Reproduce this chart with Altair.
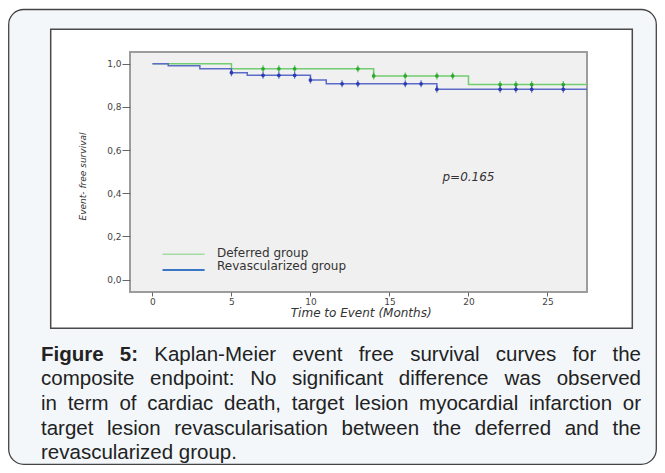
import altair as alt
import pandas as pd

# ---------------- data ----------------
groups = ["Deferred group", "Revascularized group"]
deferred_time = [0, 5, 14, 20]
deferred_surv = [1.0, 0.976, 0.943, 0.903]
revasc_time = [0, 1, 3, 5, 6, 10, 11, 18]
revasc_surv = [1.0, 0.990, 0.977, 0.958, 0.946, 0.924, 0.907, 0.881]
deferred_censor = [7, 8, 9, 13, 14, 16, 18, 19, 22, 23, 24, 26]
revasc_censor = [5, 7, 8, 9, 10, 12, 13, 16, 17, 18, 22, 23, 24, 26]
follow_up_end = 27.5
x_ticks = [0, 5, 10, 15, 20, 25]
y_ticks = [0.0, 0.2, 0.4, 0.6, 0.8, 1.0]
p_label = "p=0.165"
p_pos = [20.0, 0.475]
x_title = "Time to Event (Months)"
y_title = "Event- free survival"
caption_bold = "Figure 5:"
caption_lines = [
    "Kaplan-Meier event free survival curves for the",
    "composite endpoint: No significant difference was observed",
    "in term of cardiac death, target lesion myocardial infarction or",
    "target lesion revascularisation between the deferred and the",
    "revascularized group.",
]

# ---------------- layout constants ----------------
W, H = 457, 240
XMIN, XMAX = -1.42, 27.5
YMIN, YMAX = -0.057, 1.054
GREEN, BLUE = "#72cc72", "#5b6cc8"
GREEN_D, BLUE_D = "#2ea82e", "#2a3cb0"
LEG_GREEN, LEG_BLUE = "#a4dca4", "#3a76c6"
CHART_FONT = "DejaVu Sans"


def px_to_x(px):
    return XMIN + px / W * (XMAX - XMIN)


def py_to_y(py):
    return YMAX - py / H * (YMAX - YMIN)


def surv_at(times, survs, t):
    s = survs[0]
    for ti, si in zip(times, survs):
        if ti <= t:
            s = si
    return s


# step curves
rows = []
for g, ts, ss in [(groups[0], deferred_time, deferred_surv), (groups[1], revasc_time, revasc_surv)]:
    for t, s in zip(ts, ss):
        rows.append({"t": t, "s": s, "group": g})
    rows.append({"t": follow_up_end, "s": ss[-1], "group": g})
curves = pd.DataFrame(rows)

cens_def = pd.DataFrame({"t": deferred_censor,
                         "s": [surv_at(deferred_time, deferred_surv, t) for t in deferred_censor]})
cens_rev = pd.DataFrame({"t": revasc_censor,
                         "s": [surv_at(revasc_time, revasc_surv, t) for t in revasc_censor]})

# legend placement (inside the plot, lower left)
legend_df = pd.DataFrame({
    "group": groups,
    "x1": [px_to_x(32.5)] * 2,
    "x2": [px_to_x(74.6)] * 2,
    "xt": [px_to_x(87)] * 2,
    "yl": [py_to_y(202.3), py_to_y(218.0)],
    "yt": [py_to_y(200.5), py_to_y(214.0)],
})

# ---------------- caption word layout (justified) ----------------
REG = {' ': 278, ',': 278, '-': 333, '.': 278, ':': 278,
       'A': 667, 'B': 667, 'C': 722, 'D': 722, 'E': 667, 'F': 611, 'G': 778, 'H': 722, 'I': 278,
       'J': 500, 'K': 667, 'L': 556, 'M': 833, 'N': 722, 'O': 778, 'P': 667, 'Q': 778, 'R': 722,
       'S': 667, 'T': 611, 'U': 722, 'V': 667, 'W': 944, 'X': 667, 'Y': 667, 'Z': 611,
       'a': 556, 'b': 556, 'c': 500, 'd': 556, 'e': 556, 'f': 278, 'g': 556, 'h': 556, 'i': 222,
       'j': 222, 'k': 500, 'l': 222, 'm': 833, 'n': 556, 'o': 556, 'p': 556, 'q': 556, 'r': 333,
       's': 500, 't': 278, 'u': 556, 'v': 500, 'w': 722, 'x': 500, 'y': 500, 'z': 500}
BOLD = {' ': 278, 'F': 611, 'i': 278, 'g': 611, 'u': 611, 'r': 389, 'e': 556, ':': 333}
CAP_SIZE = 20.5
CAP_LEFT, CAP_RIGHT = -89, 511
CAP_Y = [303, 327, 352, 377, 401]


def wwidth(w, bold):
    tab = BOLD if bold else REG
    return sum(tab.get(c, 556) for c in w) / 1000 * CAP_SIZE


cap_rows = []
for i, line in enumerate(caption_lines):
    words = [(w, False) for w in line.split(" ")]
    if i == 0:
        words = [(w, True) for w in caption_bold.split(" ")] + words
    widths = [wwidth(w, b) for w, b in words]
    if i < len(caption_lines) - 1:
        gap = (CAP_RIGHT - CAP_LEFT - sum(widths)) / (len(words) - 1)
    else:
        gap = REG[' '] / 1000 * CAP_SIZE
    x = CAP_LEFT
    for (w, b), wd in zip(words, widths):
        cap_rows.append({"word": w, "bold": b, "x": px_to_x(x), "y": py_to_y(CAP_Y[i])})
        x += wd + gap
caption = pd.DataFrame(cap_rows)

# ---------------- layers ----------------
one = pd.DataFrame({"a": [0]})

outer = alt.Chart(one).mark_rect(fill="#f3f7fa", stroke="#444444", strokeWidth=1.3,
                                 cornerRadius=15).encode(
    x=alt.value(-121.3), x2=alt.value(526.3), y=alt.value(-42.5), y2=alt.value(412.3))

inner = alt.Chart(one).mark_rect(fill="white", stroke="#4a4a4a", strokeWidth=1.5).encode(
    x=alt.value(-79.3), x2=alt.value(502.3), y=alt.value(-22.8), y2=alt.value(276.3))

plotbg = alt.Chart(one).mark_rect(fill="#f0f0f0", stroke="#9c9c9c", strokeWidth=2).encode(
    x=alt.value(0), x2=alt.value(W), y=alt.value(0), y2=alt.value(H))

xscale = alt.Scale(domain=[XMIN, XMAX], nice=False, zero=False)
yscale = alt.Scale(domain=[YMIN, YMAX], nice=False, zero=False)

lines = alt.Chart(curves).mark_line(interpolate="step-after", strokeWidth=1.5).encode(
    x=alt.X("t:Q", scale=xscale,
            axis=alt.Axis(values=x_ticks, title=x_title, grid=False, domain=False,
                          tickSize=4, tickColor="#666", labelPadding=1, labelFontSize=9,
                          labelFont=CHART_FONT, labelColor="#444", titleFont=CHART_FONT,
                          titleFontSize=12, titleFontStyle="italic", titleFontWeight="normal",
                          titleColor="#333", titleX=230.7, titleY=20, titleBaseline="middle",
                          zindex=1)),
    y=alt.Y("s:Q", scale=yscale,
            axis=alt.Axis(values=y_ticks, title=y_title, grid=False, domain=False,
                          tickSize=8, tickColor="#666", labelPadding=1, labelFontSize=9,
                          labelFont=CHART_FONT, labelColor="#444",
                          labelExpr="replace(format(datum.value, '.1f'), '.', ',')",
                          titleFont=CHART_FONT, titleFontSize=9, titleFontStyle="italic",
                          titleFontWeight="normal", titleColor="#333", titleX=-48, titleY=124,
                          titleAngle=270, titleAlign="center", titleBaseline="middle", zindex=1)),
    color=alt.Color("group:N", scale=alt.Scale(domain=groups, range=[GREEN, BLUE]), legend=None),
)


def censor_layers(df, color):
    tick = alt.Chart(df).mark_tick(orient="vertical", size=7, thickness=1.2, color=color).encode(
        x="t:Q", y="s:Q")
    dot = alt.Chart(df).mark_circle(size=14, opacity=1, color=color).encode(x="t:Q", y="s:Q")
    return [tick, dot]


leg_layers = []
for g, col, sw in [(groups[0], LEG_GREEN, 1.6), (groups[1], LEG_BLUE, 2.2)]:
    base = alt.Chart(legend_df).transform_filter(alt.datum.group == g)
    leg_layers.append(base.mark_rule(color=col, strokeWidth=sw).encode(
        x="x1:Q", x2="x2:Q", y="yl:Q"))
    leg_layers.append(base.mark_text(font=CHART_FONT, fontSize=12, color="#333", align="left",
                                     baseline="middle").encode(x="xt:Q", y="yt:Q", text="group:N"))

ptext = alt.Chart(one).mark_text(text=p_label, font=CHART_FONT, fontSize=12, fontStyle="italic",
                                 color="#333", align="center", baseline="middle").encode(
    x=alt.datum(p_pos[0]), y=alt.datum(p_pos[1]))

cap_norm = alt.Chart(caption).transform_filter("!datum.bold").mark_text(
    font="Liberation Sans", fontSize=CAP_SIZE, color="#222", align="left", baseline="middle").encode(
    x="x:Q", y="y:Q", text="word:N")
cap_bold = alt.Chart(caption).transform_filter("datum.bold").mark_text(
    font="Liberation Sans", fontSize=CAP_SIZE, fontWeight="bold", color="#222", align="left",
    baseline="middle").encode(x="x:Q", y="y:Q", text="word:N")

chart = alt.layer(
    outer, inner, plotbg, lines,
    *censor_layers(cens_def, GREEN_D), *censor_layers(cens_rev, BLUE_D),
    *leg_layers, ptext, cap_norm, cap_bold,
).properties(
    width=W, height=H,
    autosize=alt.AutoSizeParams(type="none"),
    padding={"left": 122, "top": 44, "right": 70, "bottom": 173},
    background="white",
).configure_view(stroke=None)

chart.save("out.html", embed_options={"renderer": "svg", "actions": False})
